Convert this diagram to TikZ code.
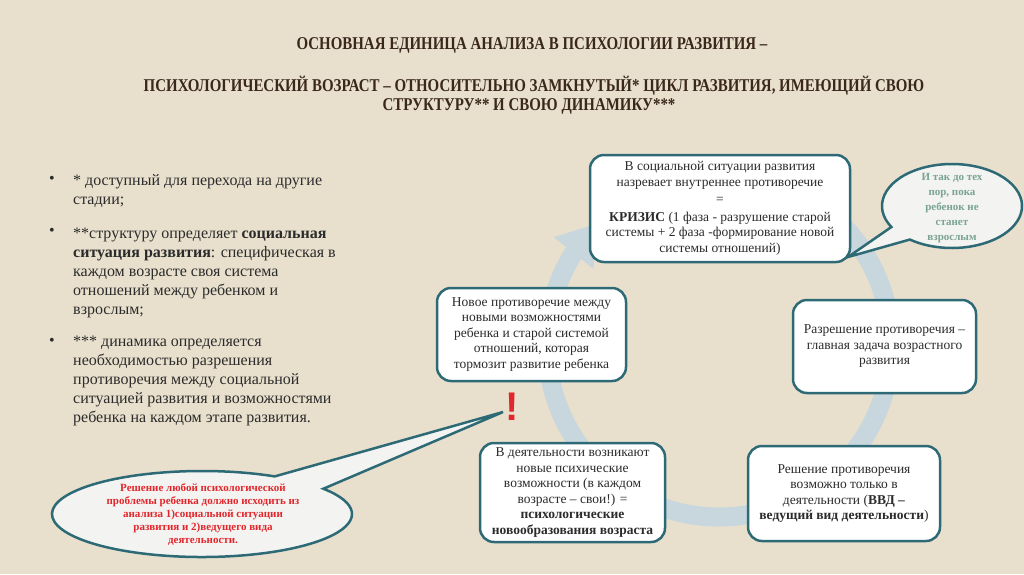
\documentclass[tikz,border=0pt]{standalone}
\usepackage{fontspec}
\setmainfont{Liberation Serif}
\newfontfamily\titlefont[FakeStretch=0.83]{Liberation Serif}
\newfontfamily\exclfont{Liberation Sans}
\usetikzlibrary{arrows.meta,bending,calc}
\definecolor{bgc}{HTML}{E8E0CD}
\definecolor{ringc}{HTML}{C8D6DD}
\definecolor{boxc}{HTML}{2E6A76}
\definecolor{titlec}{HTML}{3A281C}
\definecolor{txtc}{HTML}{2B2B2B}
\definecolor{redc}{HTML}{E3262C}
\definecolor{greenc}{HTML}{79A393}
\definecolor{ellc}{HTML}{F3F4F2}
\tikzset{
  stagebox/.style={draw=boxc, line width=2.5pt, fill=white, rounded corners=14pt,
    align=center, inner sep=2pt, text=txtc, font=\fontsize{13.5}{15.5}\selectfont},
  titletext/.style={text=titlec, font=\titlefont\bfseries\fontsize{18}{21}\selectfont, inner sep=0pt},
  bodytext/.style={text=txtc, font=\fontsize{16}{19}\selectfont, align=left, inner sep=0pt, anchor=north west},
  bullettext/.style={text=txtc, font=\fontsize{16}{19}\selectfont, inner sep=0pt, anchor=north west},
  callout/.style={draw=boxc, line width=2.5pt, fill=ellc},
  ringstyle/.style={draw=ringc, line width=19pt, -{Triangle[width=48pt,length=38pt]}}
}
\begin{document}
\begin{tikzpicture}[x=1pt,y=-1pt]
\fill[bgc] (0,0) rectangle (1024,574);
\useasboundingbox (0,0) rectangle (1024,574);

% title
\node[titletext] (t1) at (532,45) {ОСНОВНАЯ ЕДИНИЦА АНАЛИЗА В ПСИХОЛОГИИ РАЗВИТИЯ –};
\node[titletext] (t2) at (534,86) {ПСИХОЛОГИЧЕСКИЙ ВОЗРАСТ – ОТНОСИТЕЛЬНО ЗАМКНУТЫЙ* ЦИКЛ РАЗВИТИЯ, ИМЕЮЩИЙ СВОЮ};
\node[titletext] (t3) at (529,106) {СТРУКТУРУ** И СВОЮ ДИНАМИКУ***};

% left bullets
\node[bullettext] (b1) at (49,176) {•};
\node[bodytext] (p1) at (73,174) {* доступный для перехода на другие\\стадии;};
\node[bullettext] (b2) at (49,228) {•};
\node[bodytext] (p2) at (73,228) {**структуру определяет \textbf{социальная}\\\textbf{ситуация развития}: специфическая в\\каждом возрасте своя система\\отношений между ребенком и\\взрослым;};
\node[bullettext] (b3) at (49,338) {•};
\node[bodytext] (p3) at (73,336) {*** динамика определяется\\необходимостью разрешения\\противоречия между социальной\\ситуацией развития и возможностями\\ребенка на каждом этапе развития.};

% ring
\draw[ringstyle] (719,345) ++(-90:172) arc[start angle=-90, end angle=225, radius=172];

% boxes
\node[stagebox, minimum width=260pt, minimum height=107pt] (top) at (720,208.5)
  {В социальной ситуации развития\\назревает внутреннее противоречие\\[2pt]=\\[2pt]\textbf{КРИЗИС} (1 фаза - разрушение старой\\системы + 2 фаза -формирование новой\\системы отношений)};
\node[stagebox, minimum width=189pt, minimum height=93pt] (newc) at (531.5,334.5)
  {Новое противоречие между\\новыми возможностями\\ребенка и старой системой\\отношений, которая\\тормозит развитие ребенка};
\node[stagebox, minimum width=183pt, minimum height=93pt] (resol) at (884.5,346.5)
  {Разрешение противоречия –\\главная задача возрастного\\развития};
\node[stagebox, minimum width=185pt, minimum height=99pt] (act) at (572.5,492.5)
  {В деятельности возникают\\новые психические\\возможности (в каждом\\возрасте – свои!) =\\\textbf{психологические}\\\textbf{новообразования возраста}};
\node[stagebox, minimum width=192pt, minimum height=95pt] (sol) at (844,493.5)
  {Решение противоречия\\возможно только в\\деятельности (\textbf{ВВД –}\\\textbf{ведущий вид деятельности})};

% callout top right
\coordinate (cRc) at (952,206);
\coordinate (tipR) at (848,257);
\draw[callout] ($(cRc)+(127:70 and 42)$) -- (tipR) -- ($(cRc)+(150:70 and 42)$) arc[start angle=150, end angle=487, x radius=70, y radius=42] -- cycle;
\node[text=greenc, font=\bfseries\fontsize{11}{15}\selectfont, align=center, inner sep=0pt] (cR) at (952,208)
  {И так до тех\\пор, пока\\ребенок не\\станет\\взрослым};

% callout bottom left
\coordinate (cLc) at (202,514);
\coordinate (tipL) at (503,412);
\draw[callout] ($(cLc)+(-36:150 and 43)$) -- (tipL) -- ($(cLc)+(-61:150 and 43)$) arc[start angle=-61, end angle=-396, x radius=150, y radius=43] -- cycle;
\node[text=redc, font=\bfseries\fontsize{11}{13}\selectfont, align=center, inner sep=0pt] (cL) at (203,515)
  {Решение любой психологической\\проблемы ребенка должно исходить из\\анализа 1)социальной ситуации\\развития и 2)ведущего вида\\деятельности.};

% exclamation
\node[text=redc, font=\exclfont\bfseries\fontsize{40}{40}\selectfont, inner sep=0pt] (excl) at (512,407) {!};
\end{tikzpicture}
\end{document}
